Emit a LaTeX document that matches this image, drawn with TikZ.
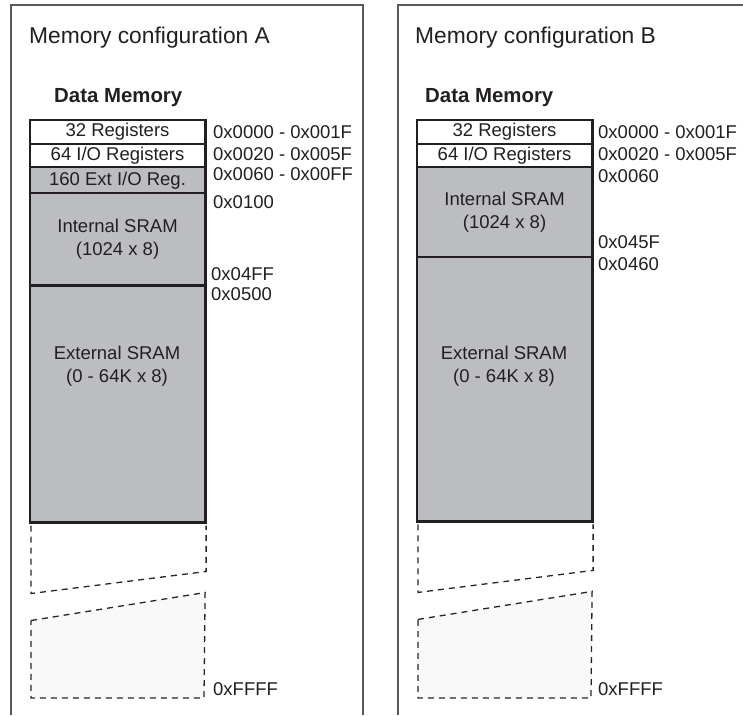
\documentclass[tikz,border=0pt]{standalone}
\usepackage{fontspec}
\setmainfont{Liberation Sans}
\usetikzlibrary{positioning, calc}

\definecolor{memgray}{HTML}{BCBDC0}
\definecolor{memlight}{HTML}{F9F9F9}
\definecolor{framegray}{HTML}{5A5A5A}
\definecolor{inkblack}{HTML}{231F20}

\begin{document}
\begin{tikzpicture}[x=1pt, y=-1pt,
    cell/.style={draw=inkblack, line width=1.1pt, minimum width=174pt, inner sep=0pt, align=center, text=inkblack, font=\fontsize{18.5}{23}\selectfont},
    whitecell/.style={cell, fill=white},
    graycell/.style={cell, fill=memgray},
    celltext/.style={align=center, inner sep=0pt, text=inkblack, font=\fontsize{18.5}{23}\selectfont},
    addr/.style={anchor=base west, inner sep=0pt, text=inkblack, font=\fontsize{18.5}{20}\selectfont},
    title/.style={anchor=base west, inner sep=0pt, text=inkblack, font=\fontsize{22.8}{25}\selectfont},
    heading/.style={anchor=base west, inner sep=0pt, text=inkblack, font=\bfseries\fontsize{20.4}{22}\selectfont},
    outline/.style={draw=inkblack, line width=2.8pt},
    dashline/.style={draw=black!85, line width=1.3pt, dash pattern=on 6pt off 5pt},
    frame/.style={draw=framegray, line width=1.6pt}
]
\useasboundingbox (0,0) rectangle (743,715);

% frames
\draw[frame] (11,715) -- (11,5) -- (363,5) -- (363,715);
\draw[frame] (398,715) -- (398,5) -- (743,5);

% configuration A
\node[title](Atitle) at (29,43.5){Memory configuration A};
\node[heading](Ahead) at (54,102){Data Memory};
\node[whitecell, minimum height=23pt, anchor=north west](Areg) at (30,120){32 Registers};
\node[whitecell, minimum height=22pt, below=0pt of Areg](Aio){64 I/O Registers};
\node[graycell, minimum height=25pt, below=0pt of Aio](Aext){160 Ext I/O Reg.};
\node[graycell, minimum height=91pt, below=0pt of Aext](Aisram){Internal SRAM\\(1024 x 8)};
\node[graycell, minimum height=236pt, below=0pt of Aisram](Aesram){};
\node[celltext](Aesramtxt) at (117,366){External SRAM\\(0 - 64K x 8)};
\draw[outline] (Areg.north west) rectangle (Aesram.south east);

\coordinate (Ab1) at ($(Aesram.south west)+(1,71)$);
\coordinate (Ab2) at ($(Aesram.south east)+(1,49)$);
\coordinate (Ab3) at ($(Aesram.south west)+(1,98)$);
\coordinate (Ab4) at ($(Aesram.south east)+(0,70)$);
\draw[dashline] ($(Aesram.south west)+(1,3)$) -- (Ab1) -- (Ab2) -- ($(Aesram.south east)+(1,3)$);
\draw[dashline, fill=memlight] (Ab3) -- (Ab4) -- (204,698) -- (31,698) -- cycle;

\node[addr](Aa0) at (213,138){0x0000 - 0x001F};
\node[addr](Aa1) at (213,160){0x0020 - 0x005F};
\node[addr](Aa2) at (213,180){0x0060 - 0x00FF};
\node[addr](Aa3) at (213,208){0x0100};
\node[addr](Aa4) at (211,280){0x04FF};
\node[addr](Aa5) at (211,300){0x0500};
\node[addr](Aa6) at (213,695){0xFFFF};

% configuration B
\node[title](Btitle) at (415,43.5){Memory configuration B};
\node[heading](Bhead) at (425,102){Data Memory};
\node[whitecell, minimum height=23pt, anchor=north west](Breg) at (417,120){32 Registers};
\node[whitecell, minimum height=22pt, below=0pt of Breg](Bio){64 I/O Registers};
\node[graycell, minimum height=89pt, below=0pt of Bio](Bisram){Internal SRAM\\(1024 x 8)};
\node[graycell, minimum height=263pt, below=0pt of Bisram](Besram){};
\node[celltext](Besramtxt) at (504,366){External SRAM\\(0 - 64K x 8)};
\draw[outline] (Breg.north west) rectangle (Besram.south east);

\coordinate (Bb1) at ($(Besram.south west)+(1,71)$);
\coordinate (Bb2) at ($(Besram.south east)+(1,49)$);
\coordinate (Bb3) at ($(Besram.south west)+(1,98)$);
\coordinate (Bb4) at ($(Besram.south east)+(0,70)$);
\draw[dashline] ($(Besram.south west)+(1,3)$) -- (Bb1) -- (Bb2) -- ($(Besram.south east)+(1,3)$);
\draw[dashline, fill=memlight] (Bb3) -- (Bb4) -- (591,698) -- (418,698) -- cycle;

\node[addr](Ba0) at (598,138){0x0000 - 0x001F};
\node[addr](Ba1) at (598,160){0x0020 - 0x005F};
\node[addr](Ba2) at (598,182){0x0060};
\node[addr](Ba3) at (598,248){0x045F};
\node[addr](Ba4) at (598,270){0x0460};
\node[addr](Ba5) at (598,695){0xFFFF};
\end{tikzpicture}
\end{document}
